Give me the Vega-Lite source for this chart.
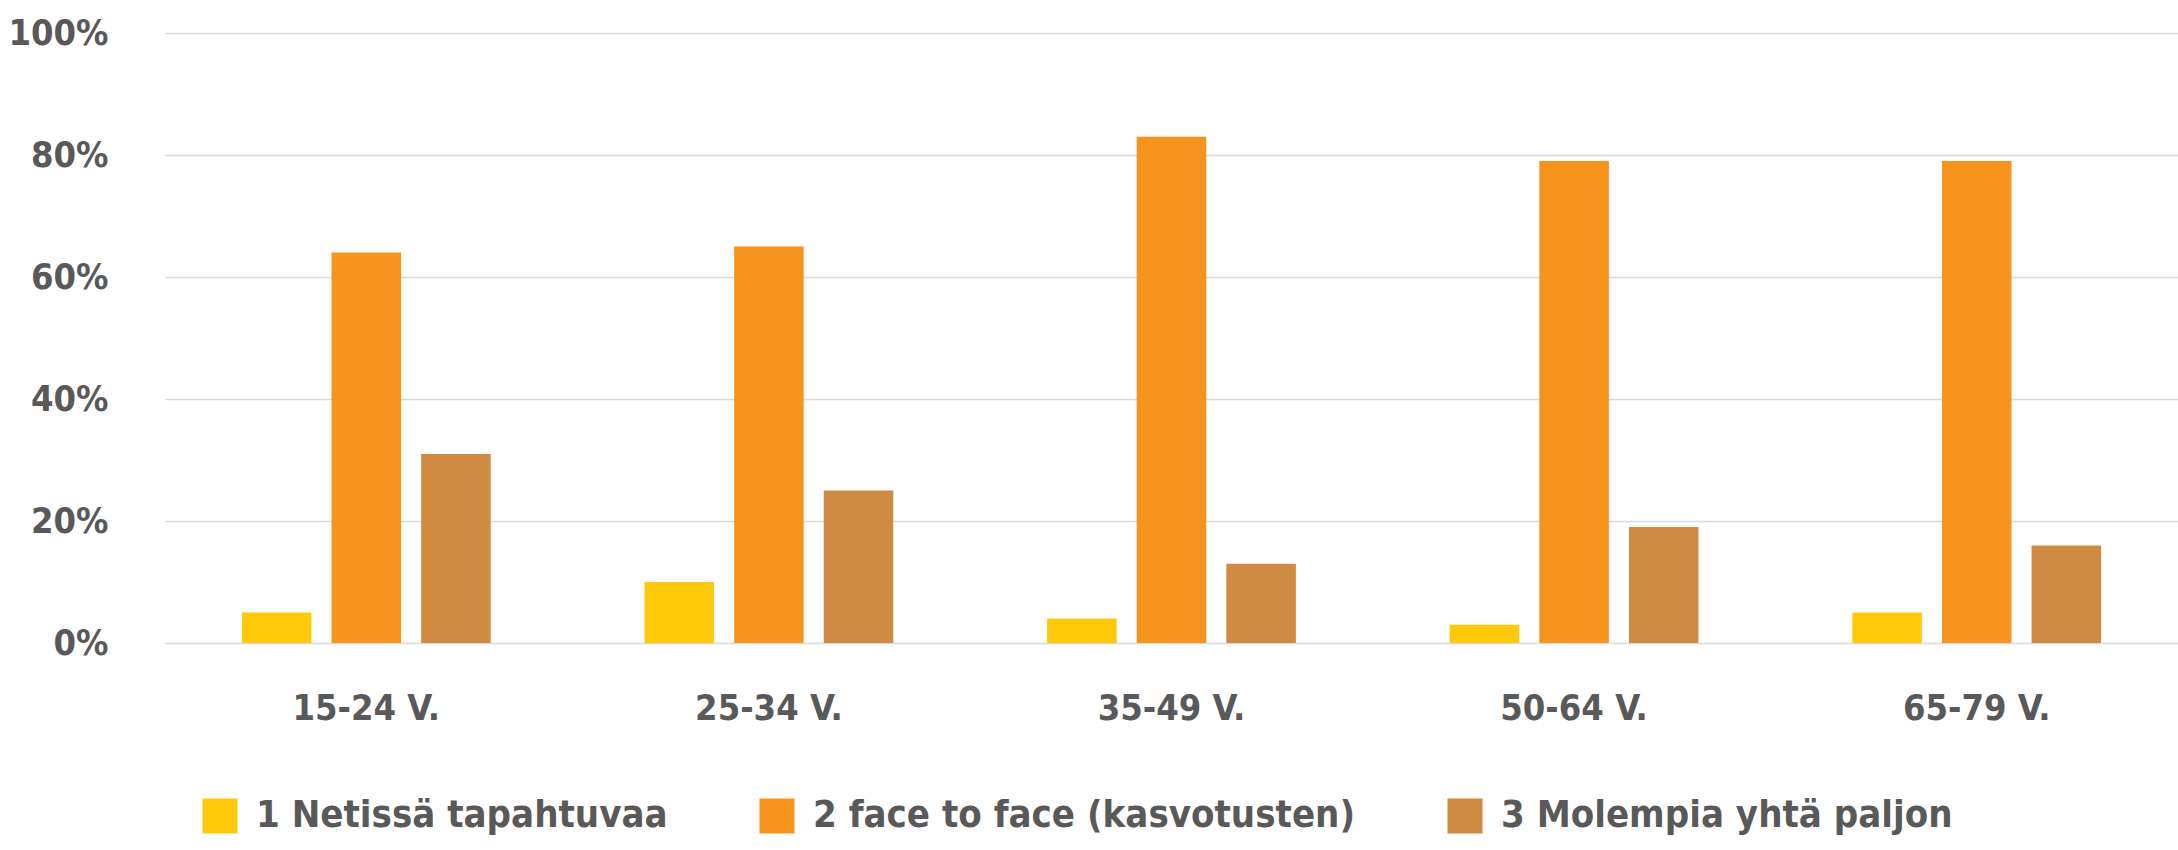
{
  "$schema": "https://vega.github.io/schema/vega-lite/v6.json",
  "width": 2013,
  "height": 610,
  "autosize": {"type": "none"},
  "padding": {"left": 165, "top": 33, "right": 0, "bottom": 207},
  "background": "white",
  "data": {
    "values": [
      {"ika": "15-24 V.", "vastaus": "1 Netissä tapahtuvaa", "osuus": 0.05},
      {"ika": "15-24 V.", "vastaus": "2 face to face (kasvotusten)", "osuus": 0.64},
      {"ika": "15-24 V.", "vastaus": "3 Molempia yhtä paljon", "osuus": 0.31},
      {"ika": "25-34 V.", "vastaus": "1 Netissä tapahtuvaa", "osuus": 0.10},
      {"ika": "25-34 V.", "vastaus": "2 face to face (kasvotusten)", "osuus": 0.65},
      {"ika": "25-34 V.", "vastaus": "3 Molempia yhtä paljon", "osuus": 0.25},
      {"ika": "35-49 V.", "vastaus": "1 Netissä tapahtuvaa", "osuus": 0.04},
      {"ika": "35-49 V.", "vastaus": "2 face to face (kasvotusten)", "osuus": 0.83},
      {"ika": "35-49 V.", "vastaus": "3 Molempia yhtä paljon", "osuus": 0.13},
      {"ika": "50-64 V.", "vastaus": "1 Netissä tapahtuvaa", "osuus": 0.03},
      {"ika": "50-64 V.", "vastaus": "2 face to face (kasvotusten)", "osuus": 0.79},
      {"ika": "50-64 V.", "vastaus": "3 Molempia yhtä paljon", "osuus": 0.19},
      {"ika": "65-79 V.", "vastaus": "1 Netissä tapahtuvaa", "osuus": 0.05},
      {"ika": "65-79 V.", "vastaus": "2 face to face (kasvotusten)", "osuus": 0.79},
      {"ika": "65-79 V.", "vastaus": "3 Molempia yhtä paljon", "osuus": 0.16}
    ]
  },
  "mark": {"type": "bar"},
  "encoding": {
    "x": {
      "field": "ika",
      "type": "nominal",
      "sort": ["15-24 V.", "25-34 V.", "35-49 V.", "50-64 V.", "65-79 V."],
      "scale": {"paddingInner": 0, "paddingOuter": 0},
      "axis": {
        "title": null,
        "domain": false,
        "ticks": false,
        "labelAngle": 0,
        "labelPadding": 48,
        "labelFontSize": 36,
        "labelFont": "DejaVu Sans Condensed",
        "labelFontWeight": "bold",
        "labelColor": "#595959"
      }
    },
    "xOffset": {
      "field": "vastaus",
      "type": "nominal",
      "sort": ["1 Netissä tapahtuvaa", "2 face to face (kasvotusten)", "3 Molempia yhtä paljon"],
      "scale": {"paddingInner": 0.224, "paddingOuter": 0.858}
    },
    "y": {
      "field": "osuus",
      "type": "quantitative",
      "scale": {"domain": [0, 1], "nice": false},
      "axis": {
        "title": null,
        "format": ".0%",
        "values": [0, 0.2, 0.4, 0.6, 0.8, 1],
        "domain": false,
        "ticks": false,
        "labelPadding": 57,
        "labelFontSize": 36,
        "labelFont": "DejaVu Sans Condensed",
        "labelFontWeight": "bold",
        "labelColor": "#595959",
        "gridColor": "#D9D9D9",
        "gridWidth": 1.5
      }
    },
    "color": {
      "field": "vastaus",
      "type": "nominal",
      "scale": {
        "domain": ["1 Netissä tapahtuvaa", "2 face to face (kasvotusten)", "3 Molempia yhtä paljon"],
        "range": ["#FFC90B", "#F7941E", "#CF8B41"]
      },
      "legend": {
        "title": null,
        "orient": "none",
        "direction": "horizontal",
        "legendX": 36,
        "legendY": 764,
        "symbolType": "square",
        "symbolSize": 1225,
        "symbolStrokeWidth": 0,
        "symbolOpacity": 1,
        "labelFontSize": 38,
        "labelFont": "DejaVu Sans Condensed",
        "labelFontWeight": "bold",
        "labelColor": "#595959",
        "labelOffset": 17,
        "columnPadding": 90,
        "labelLimit": 0
      }
    }
  },
  "config": {"view": {"stroke": null}}
}
